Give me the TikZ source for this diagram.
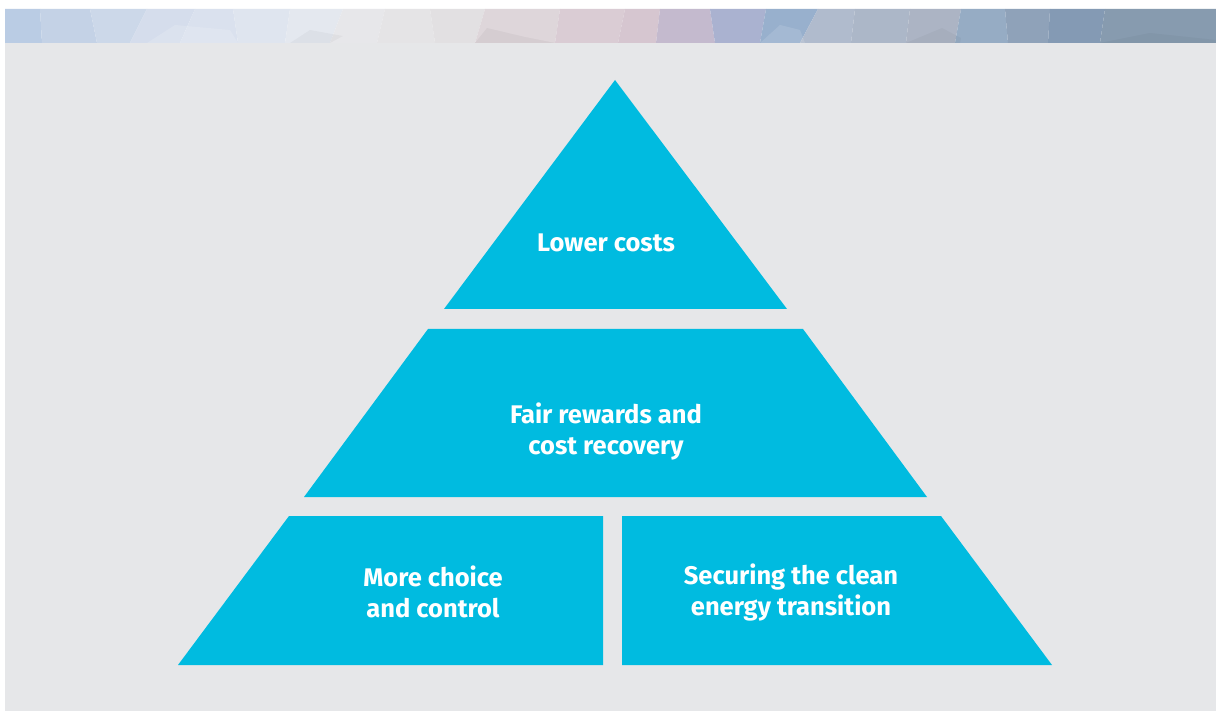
\documentclass[tikz,border=0pt]{standalone}
\usepackage{fontspec}
\setmainfont{Fira Sans}
\usepackage{tikz}
\usetikzlibrary{positioning}
\definecolor{tiercyan}{RGB}{0,187,224}
\definecolor{panelgray}{RGB}{230,231,233}
\tikzset{tier/.style={fill=tiercyan},
  tierlabel/.style={text=white, align=center, font=\fontsize{25.5}{31}\selectfont\bfseries}}

\begin{document}
\begin{tikzpicture}[x=1pt,y=-1pt]
\useasboundingbox (0,0) rectangle (1216,711);
\fill[white] (0,0) rectangle (1216,711);
\fill[panelgray] (5,43) rectangle (1216,711);

% Banner facets
\foreach \ta/\tb/\bb/\ba/\r/\g/\b in {
  5/40/42/5/186/204/228, 40/90/97/42/196/210/230, 90/147/130/97/204/216/233,
  147/195/180/130/213/221/236, 195/233/238/180/218/225/238, 233/290/285/238/223/229/239,
  290/343/330/285/228/232/239, 343/385/377/330/231/231/234, 385/430/435/377/229/228/230,
  430/485/475/435/226/224/226, 485/560/555/475/222/214/218, 560/625/618/555/218/204/212,
  625/660/656/618/214/198/208, 660/710/715/656/196/186/206, 710/766/760/715/170/178/208,
  766/818/800/760/152/176/205, 818/855/851/800/176/187/205, 855/910/906/851/172/183/200,
  910/961/955/906/172/180/196, 961/1005/1008/955/150/172/196, 1005/1050/1048/1008/143/162/185,
  1050/1105/1100/1048/132/154/180, 1105/1216/1216/1100/135/155/175}
  {\definecolor{facet}{RGB}{\r,\g,\b}
   \fill[facet] (\ta,9) -- (\tb,9) -- (\bb,43) -- (\ba,43) -- cycle;}
% lower facet shards
\fill[white,opacity=0.15] (147,43) -- (175,25) -- (230,30) -- (238,43) -- cycle;
\fill[black,opacity=0.03] (290,43) -- (310,30) -- (343,36) -- (330,43) -- cycle;
\fill[black,opacity=0.04] (475,43) -- (487,28) -- (525,37) -- (555,43) -- cycle;
\fill[white,opacity=0.12] (760,43) -- (780,25) -- (800,30) -- (805,43) -- cycle;
\fill[black,opacity=0.03] (906,43) -- (942,28) -- (961,38) -- (960,43) -- cycle;
\fill[black,opacity=0.03] (1100,43) -- (1150,33) -- (1216,40) -- (1216,43) -- cycle;

% Top tier
\fill[tier] (615,80) -- (787,309) -- (444,309) -- cycle;
\node[tierlabel] (costs) at (606,243) {Lower costs};

% Middle tier
\fill[tier] (428,329) -- (803,329) -- (927,497) -- (304,497) -- cycle;
\node[tierlabel] (rewards) at (606,431) {Fair rewards and\\cost recovery};

% Bottom tier, left
\fill[tier] (289,516) -- (603,516) -- (603,665) -- (178,665) -- cycle;
\node[tierlabel] (choice) at (433,592) {More choice\\and control};

% Bottom tier, right
\fill[tier] (622,516) -- (941,516) -- (1052,665) -- (622,665) -- cycle;
\node[tierlabel] (transition) at (791,592) {Securing the clean\\energy transition};
\end{tikzpicture}
\end{document}
